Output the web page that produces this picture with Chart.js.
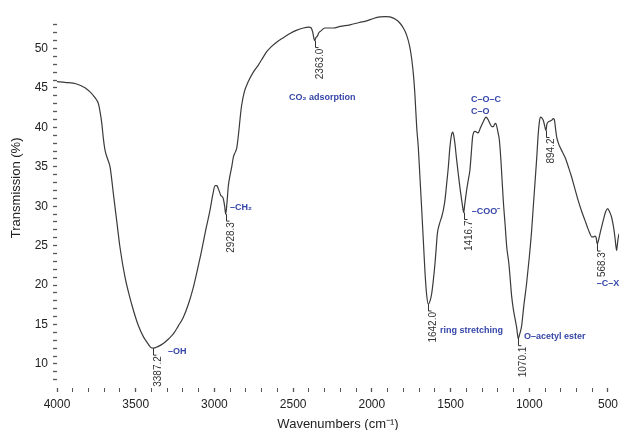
<!DOCTYPE html>
<html>
<head>
<meta charset="utf-8">
<script src="https://cdn.jsdelivr.net/npm/chart.js@4.4.1/dist/chart.umd.min.js"></script>
<style>
  html, body { margin: 0; padding: 0; background: #fff; }
  #wrap { width: 619px; height: 430px; position: relative; }
</style>
</head>
<body>
<div id="wrap"><canvas id="ftir-chart"></canvas></div>
<script>
// FTIR spectrum (wavenumber in cm-1, transmission in %)
const wavenumbers = [
  4000, 3950, 3875, 3820, 3790, 3760, 3737, 3725, 3716, 3705, 3695, 3675, 3663, 3650, 3642,
  3621, 3600, 3568, 3526, 3484, 3450, 3430, 3405, 3387.2, 3360, 3325, 3290, 3261, 3230, 3198,
  3165, 3134, 3105, 3081, 3055, 3028, 3010, 2996, 2985, 2975, 2960, 2944, 2935, 2928.3, 2920,
  2912, 2900, 2890, 2880, 2869, 2859, 2855, 2845, 2835, 2827, 2810, 2785, 2750, 2721, 2690,
  2668, 2640, 2605, 2560, 2520, 2480, 2435, 2400, 2385, 2376, 2368, 2363.0, 2355, 2345, 2337,
  2325, 2298, 2245, 2200, 2139, 2080, 2033, 1990, 1948, 1915, 1885, 1850, 1821, 1800, 1779,
  1760, 1747, 1735, 1726, 1715, 1705, 1694, 1683, 1672, 1662, 1652, 1642.0, 1630, 1620, 1610,
  1599, 1590, 1584, 1570, 1557, 1546, 1536, 1525, 1514, 1505, 1499, 1492, 1486, 1479, 1472,
  1462, 1451, 1440, 1429, 1420, 1416.7, 1410, 1398, 1385, 1377, 1368, 1360, 1352, 1345, 1335,
  1324, 1313, 1302, 1288, 1275, 1262, 1250, 1238, 1228, 1220, 1213, 1205, 1197, 1190, 1180,
  1175, 1165, 1154, 1143, 1130, 1122, 1112, 1100, 1091, 1080, 1070.1, 1062, 1055, 1048, 1035,
  1017, 1000, 985, 975, 964, 953, 943, 935, 928, 920, 911, 900, 894.2, 888, 879,
  868, 858, 848, 841, 833, 826, 815, 805, 790, 773, 750, 731, 710, 689, 668,
  646, 630, 614, 603, 593, 583, 575, 568.3, 561, 551, 540, 530, 515, 502, 490,
  477, 466, 456, 450, 445, 440, 435, 430
];
const transmission = [
  45.8, 45.7, 45.5, 45.0, 44.5, 43.8, 43.0, 41.8, 40.6, 38.5, 37.1, 35.8, 35.0, 33.0, 31.6,
  28.2, 24.8, 21.0, 17.6, 14.9, 13.4, 12.8, 12.1, 12.0, 12.2, 12.6, 13.2, 13.8, 14.8, 15.9,
  17.6, 19.7, 22.2, 24.4, 27.0, 29.5, 31.5, 32.6, 32.6, 32.2, 31.4, 31.0, 30.0, 29.0, 30.5,
  32.5, 34.0, 35.0, 36.2, 36.8, 37.3, 37.8, 39.5, 41.5, 42.8, 44.5, 45.8, 47.1, 47.9, 48.9,
  49.6, 50.2, 50.8, 51.4, 51.9, 52.3, 52.6, 52.7, 52.6, 52.1, 51.3, 51.0, 51.4, 51.6, 52.0,
  52.2, 52.6, 52.6, 52.8, 53.0, 53.3, 53.5, 53.8, 54.0, 54.05, 54.0, 53.7, 53.2, 52.6, 51.7,
  50.3, 48.7, 46.5, 44.0, 40.0, 37.5, 33.5, 29.5, 25.3, 21.5, 18.8, 17.6, 18.0, 18.9, 20.5,
  22.7, 25.0, 26.5, 27.8, 28.6, 29.5, 30.7, 32.8, 35.0, 37.3, 38.4, 39.2, 39.4, 38.9, 37.9,
  36.0, 34.1, 32.3, 30.7, 29.5, 29.2, 30.2, 32.0, 33.6, 34.6, 36.8, 38.8, 39.4, 39.5, 39.4,
  39.3, 39.8, 40.3, 40.9, 41.3, 41.0, 40.5, 40.1, 40.1, 40.4, 40.5, 40.0, 39.2, 38.4, 35.8,
  34.1, 30.7, 27.8, 24.8, 22.8, 21.0, 18.6, 16.8, 15.8, 14.6, 13.2, 13.7, 14.2, 14.9, 17.3,
  20.2, 23.5, 26.9, 29.8, 32.9, 36.0, 39.2, 40.8, 41.3, 41.2, 40.9, 40.0, 39.6, 40.4, 40.7,
  40.8, 40.9, 41.1, 41.0, 39.8, 38.8, 38.0, 37.5, 36.9, 36.2, 34.9, 33.7, 32.2, 30.7, 29.4,
  28.2, 27.3, 26.5, 26.1, 26.1, 26.2, 26.0, 25.2, 25.6, 26.5, 27.4, 28.2, 29.3, 29.7, 29.3,
  28.6, 27.5, 26.1, 25.0, 24.4, 25.2, 26.0, 26.5
];

// labelled peaks (wavenumbers, must be in the list above)
const peakWavenumbers = [3387.2, 2928.3, 2363.0, 1642.0, 1416.7, 1070.1, 894.2, 568.3];

// band assignments: text and anchor (wavenumber, transmission)
const bandLabels = ['–OH', '–CH₂', 'CO₂ adsorption', 'C–O–C', 'C–O', '–COO⁻', 'ring stretching', 'O–acetyl ester', '–C–X'];
const bandWavenumbers = [3295, 2901, 2526, 1370, 1370, 1366, 1567, 1034, 572];
const bandTransmission = [11.6, 29.8, 43.8, 43.5, 42.05, 29.3, 14.3, 13.45, 20.2];

const xTicks = [];
for (let v = 500; v <= 4000; v += 100) xTicks.push(v);
const yTicks = [];
for (let v = 8; v <= 53; v++) yTicks.push(v);

const points = wavenumbers.map((w, i) => ({x: w, y: transmission[i]}));

const BLUE = '#3646a8';
const FONT = '"Liberation Sans", Arial, Helvetica, sans-serif';

const annotate = {
  id: 'annotate',
  afterDatasetsDraw(chart) {
    const ctx = chart.ctx;
    const xs = chart.scales.x, ys = chart.scales.y;
    ctx.save();
    // peak markers with rotated wavenumber labels
    ctx.strokeStyle = '#333';
    ctx.lineWidth = 1;
    ctx.fillStyle = '#333';
    ctx.font = '10px ' + FONT;
    peakWavenumbers.forEach(w => {
      const t = transmission[wavenumbers.indexOf(w)];
      const px = Math.round(xs.getPixelForValue(w)) + 0.5;
      const py = ys.getPixelForValue(t);
      ctx.beginPath();
      ctx.moveTo(px, py);
      ctx.lineTo(px, py + 7);
      ctx.lineTo(px + 3, py + 7);
      ctx.stroke();
      ctx.save();
      ctx.translate(px + 4.5, py + 8);
      ctx.rotate(-Math.PI / 2);
      ctx.textAlign = 'right';
      ctx.textBaseline = 'middle';
      ctx.fillText(w.toFixed(1), 0, 0);
      ctx.restore();
    });
    // band assignments
    ctx.fillStyle = BLUE;
    ctx.font = 'bold 9px ' + FONT;
    ctx.textAlign = 'left';
    ctx.textBaseline = 'middle';
    bandLabels.forEach((s, i) => {
      ctx.fillText(s, xs.getPixelForValue(bandWavenumbers[i]), ys.getPixelForValue(bandTransmission[i]));
    });
    ctx.restore();
  }
};

new Chart(document.getElementById('ftir-chart'), {
  type: 'line',
  data: {
    datasets: [{
      data: points,
      borderColor: '#3a3a3a',
      borderWidth: 1.2,
      pointRadius: 0,
      cubicInterpolationMode: 'monotone',
      fill: false
    }]
  },
  options: {
    responsive: true,
    maintainAspectRatio: false,
    devicePixelRatio: 1,
    animation: false,
    layout: { padding: { top: 13, right: 0, left: 0, bottom: 0 } },
    plugins: {
      legend: { display: false },
      tooltip: { enabled: false }
    },
    scales: {
      x: {
        type: 'linear',
        reverse: true,
        min: 430,
        max: 4000,
        afterBuildTicks: s => { s.ticks = xTicks.map(v => ({value: v})); },
        afterFit: s => { s.height = 42; s.paddingLeft = 0; s.paddingRight = 0; },
        border: { display: false },
        grid: {
          drawOnChartArea: false,
          drawTicks: true,
          tickLength: 4,
          tickColor: '#555',
          tickWidth: c => (c.tick && c.tick.value % 500 === 0) ? 1.3 : 1
        },
        ticks: {
          autoSkip: false,
          maxRotation: 0,
          padding: 5,
          color: '#222',
          font: { family: FONT, size: 12 },
          callback: v => (v % 500 === 0 ? String(v) : '')
        },
        title: {
          display: true,
          text: 'Wavenumbers (cm⁻¹)',
          color: '#222',
          font: { family: FONT, size: 13 },
          padding: { top: 0, bottom: -2 }
        }
      },
      y: {
        min: 6.95,
        max: 54.5,
        afterBuildTicks: s => { s.ticks = yTicks.map(v => ({value: v})); },
        afterFit: s => { s.width = 57; s.paddingTop = 0; s.paddingBottom = 0; },
        border: { display: false },
        grid: {
          drawOnChartArea: false,
          drawTicks: true,
          tickLength: 4,
          tickColor: '#555',
          tickWidth: 1.3
        },
        ticks: {
          autoSkip: false,
          padding: 5,
          color: '#222',
          font: { family: FONT, size: 12 },
          callback: v => (v % 5 === 0 ? String(v) : '')
        },
        title: {
          display: true,
          // leading spaces push the centred title up to where the reference has it
          text: '       Transmission (%)',
          color: '#222',
          font: { family: FONT, size: 13 },
          padding: { top: 9, bottom: 0 }
        }
      }
    }
  },
  plugins: [annotate]
});
</script>
</body>
</html>
